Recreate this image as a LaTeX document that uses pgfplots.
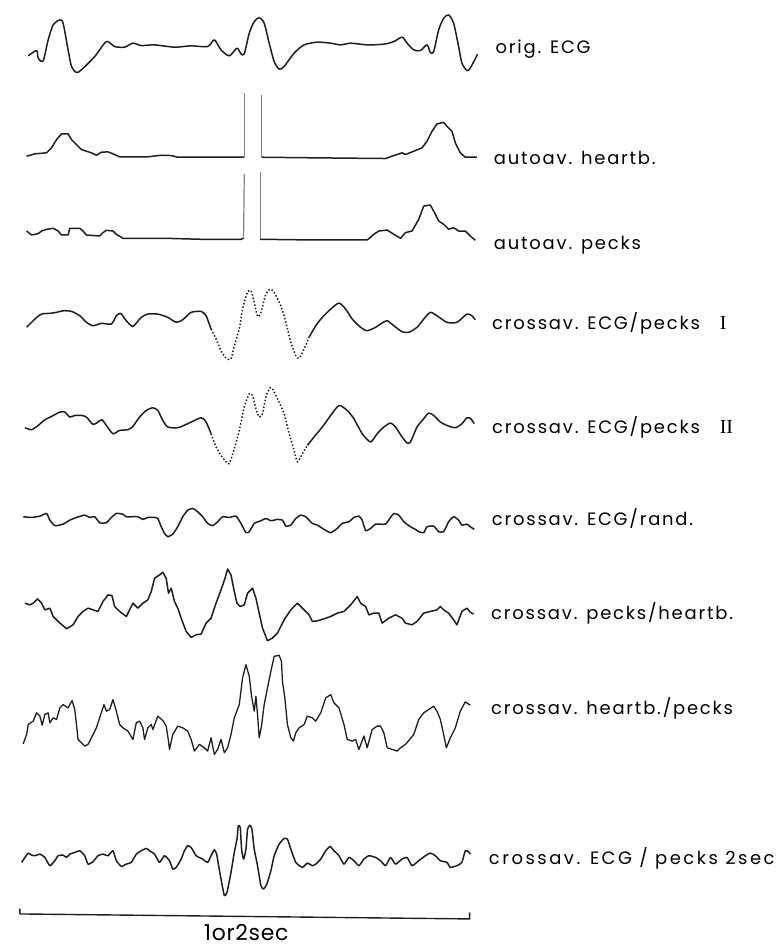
\documentclass[border=0pt]{standalone}
\usepackage{fontspec}
\setmainfont{Poppins}[LetterSpace=10]
\newfontfamily\barfont{Poppins}[LetterSpace=3]
\newfontfamily\romfont{Liberation Serif}
\usepackage{pgfplots}
\pgfplotsset{compat=1.18}
\definecolor{ink}{RGB}{30,30,30}
\begin{document}
\begin{tikzpicture}
\begin{axis}[
  width=392.5pt, height=473.5pt, scale only axis,
  xmin=0, xmax=785, ymin=0, ymax=947, y dir=reverse,
  hide axis, clip=false,
  cycle list={{ink, mark=none, solid}},
  every axis plot/.append style={ink, mark=none, line width=0.75pt, line join=round},
]
\path[draw=none] (rel axis cs:0,0) rectangle (rel axis cs:1,1);
% 1 orig ECG
\addplot[smooth, tension=0.45] table {
x y
28.3 56
36.7 50.7
38.3 58.3
43.3 61
48.3 40
53.3 25
60 20
63.3 23.3
68.3 50
71.7 66.7
76.7 72.7
81.7 70
95 56.7
106.7 41.7
115 46.7
125 47.3
133.3 43.3
141.7 45.7
155 45
175 47.3
191.7 46
208.3 46.7
215 40
221.7 50
230 56
237.7 48.3
241.7 54
245 54
250 33.3
255 21.7
260 17.7
265 23.3
270 43.3
275 61.7
280 69.3
285 66.7
295 53.3
305 45
318.3 42.3
331.7 43.3
341.7 45
351.7 43.3
368.3 45
385 44.3
395 41.7
403.3 37.3
408.3 43.3
415 50
421.7 50.7
428.3 45
431.7 52.7
435 51.7
440 30
445 18.3
450 15
455 23.3
460 46.7
463.3 63.3
468.3 70.7
471.7 68.3
479 54.3
};
% 2 autoav heartb
\addplot[ink] table {
x y
26.7 156.7
35 154.3
46.7 153.3
51.7 148.3
56.7 140
61.7 134.3
68.3 134.3
71.7 140
76.7 145
81.7 150
91.7 153.3
96.7 155.7
101.7 152.7
108.3 152.3
115 155
120 157.3
148.3 157.3
161.7 155.7
171.7 156
178.3 157.7
245 157.7
};
\addplot[line width=0.6pt, gray] table {
x y
245 157.7
245 93.3
};
\addplot[line width=0.6pt, gray] table {
x y
262.3 95
262.3 157.7
};
\addplot[ink] table {
x y
262.3 157.7
315 158.3
386.7 159
395 156
403.3 153.3
406.7 155
423.3 148.3
428.3 141.7
433.3 131.7
438.3 124.3
445 122.7
448.3 126.7
453.3 131.7
456.7 143.3
461.7 153.3
466.7 157.7
478.3 157.7
};
% 3 autoav pecks
\addplot[ink] table {
x y
26.7 231.7
31.7 235.7
38.3 234.3
41.7 231.7
46.7 230
53.3 229
58.3 231.7
61.7 235.7
68.3 235.7
70 229
80 229
83.3 231.7
86.7 235.7
100 236.7
103.3 233.3
106.7 231
113.3 231.7
116.7 235
123.3 239
165 239
201.7 240
241.7 240
244.3 239
};
\addplot[line width=0.6pt, gray] table {
x y
244.3 239
245 175
};
\addplot[line width=0.6pt, gray] table {
x y
261 172.3
261 240
};
\addplot[ink] table {
x y
261 240
315 240.7
368.3 240.7
375 235
380 231.7
388.3 230.7
395 235
401.7 239
406.7 233.3
413.3 231.7
420 220
425 206.7
431.7 205.7
436.7 215
440 221.7
445 225
450 230
455 228.3
460 231.7
466.7 231.7
471.7 236.7
476.7 241
};
% 4 crossav ECG/pecks I
\addplot[smooth, tension=0.4] table {
x y
26.7 328.3
35 320
41.7 315
50 314.3
56.7 313.3
63.3 311.7
71.7 312.3
80 316.7
86.7 323.3
93.3 326.7
101.7 324.3
111.7 325
116.7 316.7
121 314.3
126.7 321.7
133.3 327.3
141.7 318.3
148.3 315
158.3 315
168.3 318.3
176.7 323.3
183.3 320.7
191.7 313.3
201.7 312.3
206.7 316.7
211.7 330
};
\addplot[smooth, tension=0.4, densely dotted] table {
x y
211.7 330
216.7 340
221.7 351.7
226.7 359.3
231.7 360
235 346.7
240 330
243.3 310
248.3 292.7
251.7 291.7
254.3 300
258.3 317.3
261.7 313.3
266.7 295
271 290
275 293.3
281.7 306.7
286.7 323.3
291.7 343.3
296.7 356.7
300 359.3
305 350
310 338.3
};
\addplot[smooth, tension=0.4] table {
x y
310 338.3
316.7 326.7
323.3 318.3
331.7 310
340 304
346.7 310
353.3 320
361.7 328.3
368.3 331.7
376.7 328.3
381.7 325
388.3 321.7
395 326.7
403.3 332.7
410 333.3
418.3 328.3
425 320
431.7 313.3
438.3 316.7
448.3 323.3
458.3 323.3
468.3 315
473.3 316.7
476.7 320.7
};
% 5 crossav ECG/pecks II
\addplot[smooth, tension=0.4] table {
x y
25 429
31.7 431
38.3 426.7
45 421
51.7 417.7
60 413.3
65 413.3
70 418.3
75 416.7
81.7 416.7
86.7 418.3
93.3 425.7
98.3 423.3
102.3 421
106.7 426.7
113.3 435
120 431.7
128.3 431
133.3 427.7
140 418.3
146.7 411.7
153.3 409
158.3 411.7
163.3 421.7
168.3 428.3
178.3 429
188.3 425
201.7 419
206.7 423.3
211.7 435
};
\addplot[smooth, tension=0.4, densely dotted] table {
x y
211.7 435
216.7 448.3
221.7 456.7
226.7 463.3
230 465
235 450
240 431.7
245 408.3
250 395
253.3 396.7
256.7 410
260 418.3
263.3 415
266.7 398.3
270.7 389
273.3 390
278.3 400
285 415
290 435
295 451.7
298.3 463.3
303.3 455
308.3 446.7
};
\addplot[smooth, tension=0.4] table {
x y
308.3 446.7
315 438.3
323.3 428.3
331.7 416.7
340 406.7
348.3 411.7
355 420
363.3 435
371.7 443.3
378.3 435
385 428.3
391.7 424.3
396.7 428.3
403.3 438.3
408.3 444.3
411.7 443.3
418.3 428.3
425 420
430 414.3
435 416.7
441.7 423.3
448.3 426.7
456.7 429
463.3 425
468.3 419
472.3 420
475.7 425
};
% 6 crossav ECG/rand
\addplot[smooth, tension=0.3] table {
x y
23.3 518.3
31.7 519
40 517.7
46.7 515
50 521.7
55 527.3
63.3 525.7
70 521.7
76.7 519
85 516.7
90 519
95 518.3
100 524.3
106.7 524.3
111.7 519
116.7 515
123.3 515.7
126.7 518.3
138.3 518.3
143.3 521
148.3 519
155 519
158.3 520
161.7 528.3
165 535
168.3 538.3
173.3 535.7
178.3 528.3
183.3 518.3
188.3 511.7
193.3 510
198.3 513.3
203.3 518.3
208.3 525
213.3 527.3
218.3 523.3
223.3 518.3
230 519
236.7 517.7
241.7 525
246.7 534.3
250 533.3
255 525
261.7 522.3
266.7 520
271.7 522.3
278.3 521
283.3 521.7
286.7 527.7
291.7 526.7
296.7 520
301.7 516.7
306.7 518.3
313.3 525
318.3 526.7
325 531
331.7 534.3
338.3 530
343.3 525
350 523.3
355 519
360 517.7
363.3 521.7
366.7 532.3
371.7 530
376.7 525.7
381.7 525.7
386.7 525.7
391.7 519
395 515
400 516.7
405 523.3
411.7 528.3
416.7 531
420 533.3
425 534.3
428.3 528.3
435 527.7
440 533.3
445 533.3
450 523.3
455 518.3
460 521.7
463.3 526.7
468.3 525.7
471.7 528.3
475.7 531
};
% 7 crossav pecks/heartb
\addplot[ink] table {
x y
25 605
30 606.7
33.3 605
37.7 600.7
41.7 605
45 611.7
50 610
53.3 618.3
58.3 623.3
66.7 630.7
73.3 626.7
78.3 618.3
83.3 613.3
88.3 610
93.3 611.7
98.3 613.3
103.3 603.3
108.3 596.7
112.3 597.3
115 608.3
120 613.3
126.7 618.3
130 611.7
133.3 605
138.3 610
143.3 605
148.3 601.7
151.7 593.3
155 580
160 576.7
163.3 574
166.7 580
169 595
171.7 590
175 603.3
178.3 610
181.7 620
186.7 633.3
191.7 639.3
196.7 636.7
201.7 636
206.7 625
211.7 620
216.7 605
221.7 591.7
225.7 580
228.3 570.7
231.7 576.7
235 593.3
237.7 605
241 608.3
245 606.7
248.3 595
253.3 590
256.7 600
260 615
263.3 630
268.3 642.7
273.3 640
278.3 635
285 621.7
291.7 611.7
298.3 605
301.7 608.3
305 611.7
310 616.7
313.3 623.3
318.3 622.7
325 620.7
331.7 618.3
338.3 615
345 613.3
351.7 606.7
358.3 598.3
361.7 605
366.7 608.3
370 616.7
375 615
380 615
383.3 625
390 620
396.7 616.7
403.3 620
406.7 625
413.3 626.7
418.3 623.3
425 615
431.7 613.3
438.3 611.7
441.7 608.3
445 611.7
450 615
455 621.7
458.3 626.7
463.3 613.3
468.3 610
471.7 614
475 616
};
% 8 crossav heartb/pecks
\addplot[ink, line width=0.65pt] table {
x y
23.3 746
26.7 736.7
28.3 726.7
33.3 723.3
36.7 715
40 718.3
42.3 727.3
45 716.7
48.3 715
50 725
53.3 720
56.7 721.7
60 710
63.3 706.7
68.3 710
72.3 702.7
75 711.7
76.7 726.7
78.3 741.7
81.7 745
85 748.3
88.3 746.7
91.7 740
96.7 730
101 716.7
104.3 706.7
106.7 713.3
110 711.7
113.3 701.7
116.7 713.3
120 726.7
123.3 730
128.3 733.3
133.3 741.7
136.7 725
140 723.3
143.3 730
145 741.7
148.3 730
151.7 726.7
153.3 731.7
158.3 718.3
163.3 722.7
166.7 728.3
169 743.3
170 751.7
173.3 736.7
178.3 728.3
183.3 730
188.3 733.3
191.7 741.7
195 753.3
200 746.7
205 750
208.3 753.3
211.7 740
215 756.7
218.3 751.7
221.7 741.7
225 755
228.3 750
231.7 736.7
235 720
240 706.7
243.3 680
246.7 666.7
250 678.3
252.3 698.3
255 713.3
256.7 698.3
258.3 716.7
260 740
262.3 728.3
265 706.7
268.3 690
271.7 673.3
275 658.3
280 657.3
282.3 663.3
283.3 683.3
285.7 700
288.3 726.7
291.7 740
294.3 743.3
296.7 735
300 730
305 726.7
308.3 718.3
313.3 720
316.7 723.3
321.7 715
326.7 700
331.7 696.7
335 705
340 710
345 726.7
348.3 741.7
353.3 743.3
356.7 741.7
360 751.7
365 738.3
368.3 750
373.3 731.7
378.3 728.3
381.7 728.3
385 735
388.3 750
393.3 751.7
398.3 753.3
401.7 750
406.7 746.7
410 742.7
415 736.7
420 721.7
425 715
430 711.7
435 708.3
438.3 713.3
441.7 721.7
445 736.7
447.7 750
451.7 740
456.7 730
461.7 713.3
466.7 704
471.7 707.3
};
% 9 crossav ECG/pecks 2sec
\addplot[smooth, tension=0.3] table {
x y
21.7 865
25 860
28.3 855.7
31.7 857.7
35 858.3
40 856.7
45 860
50 868.3
55 863.3
58.3 858.3
63.3 857.7
66.7 860
70 856.7
75 855
80 853.3
85 858.3
88.3 866.7
93.3 864.3
98.3 858.3
103.3 856.7
108.3 858.3
113.3 853.3
116.7 863.3
121.7 869
126.7 866.7
131.7 865
136.7 856.7
141.7 853.3
146.7 851
150 853.3
155 856.7
160 865
165 858.3
170 863.3
173.3 871.7
176.7 870
181.7 861.7
185 853.3
188.3 848.3
191.7 850
196.7 858.3
203.3 861.7
208.3 865
211.7 858.3
215 852.3
217.3 856.7
219 866.7
221.7 881.7
225 898.3
227.7 895
231.7 875
235 855
237.7 841.7
239 828.3
241 830
242.3 851.7
244.3 861.7
246.7 851.7
248.3 831.7
250.7 827.7
252.7 831.7
255 851.7
258.3 868.3
261.7 888.3
264.3 891.7
267.7 886.7
271.7 873.3
275 858.3
280 846.7
285 841
288.3 841.7
291.7 851.7
296.7 865
303.3 870
308.3 865.7
313.3 868.3
316.7 866.7
321.7 861.7
326.7 853.3
331 849
335 853.3
340 858.3
345 866.7
350 860
355 863.3
360 868.3
365 861.7
370 858.3
376.7 860
381.7 863.3
386.7 868.3
391.7 860
396.7 866.7
403.3 861.7
408.3 860
413.3 868.3
420 863.3
426.7 858.3
431.7 855.7
436.7 858.3
441.7 863.3
448.3 865
451.7 870
458.3 868.3
463.3 865
466.7 853.3
470 854.3
471.7 856.7
};
% scale bar
\addplot[ink, line width=0.7pt] table {
x y
20 911.7
20 916.7
471 921.7
471 915
};
\node[anchor=base, font=\barfont\fontsize{11}{12}\selectfont] at (axis cs:247,943) {1or2sec};
% labels
\begin{scope}[every node/.style={anchor=base west, font=\fontsize{9}{10}\selectfont, inner sep=0pt}]
\node at (axis cs:496.7,53.3) {orig. ECG};
\node at (axis cs:495,165) {autoav. heartb.};
\node at (axis cs:495,250) {autoav. pecks};
\node at (axis cs:493.3,330) {crossav. ECG/pecks \ \ {\romfont\fontsize{10}{10}\selectfont I}};
\node at (axis cs:493.3,435) {crossav. ECG/pecks \ \ {\romfont\fontsize{10}{10}\selectfont II}};
\node at (axis cs:493,527) {crossav. ECG/rand.};
\node at (axis cs:492.3,621.7) {crossav. pecks/heartb.};
\node at (axis cs:492.3,716.7) {crossav. heartb./pecks};
\node at (axis cs:490,866.7) {\addfontfeature{LetterSpace=14}crossav. ECG / pecks 2sec};
\end{scope}
\end{axis}
\end{tikzpicture}
\end{document}
